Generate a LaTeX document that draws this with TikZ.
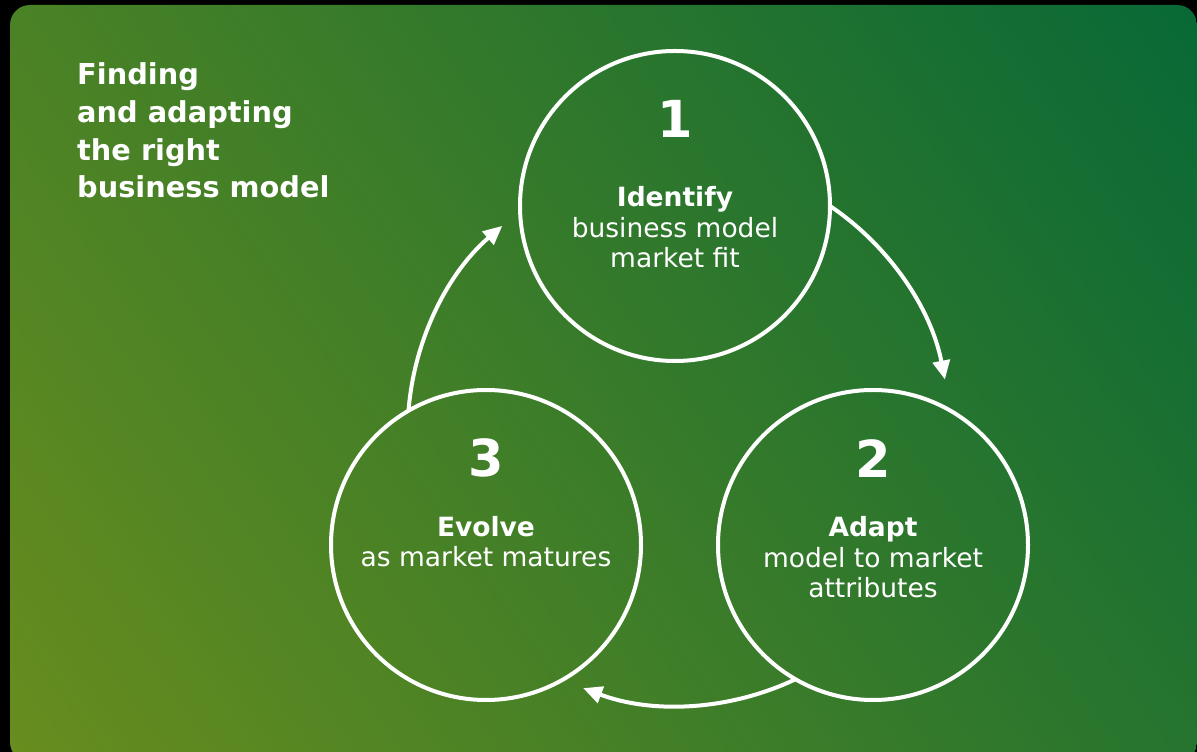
\documentclass[tikz,border=0pt]{standalone}
\usepackage{fontspec}
\setmainfont{DejaVu Sans}
\usetikzlibrary{arrows.meta}

\definecolor{bgA}{RGB}{104,141,30}
\definecolor{bgB}{RGB}{8,105,54}
\pgfdeclarehorizontalshading{bgshade}{100bp}{color(0bp)=(bgA); color(25bp)=(bgA); color(75bp)=(bgB); color(100bp)=(bgB)}

\tikzset{
  ring/.style={circle, draw=white, line width=4pt, minimum size=310pt, inner sep=0pt, outer sep=0pt},
  flow/.style={draw=white, line width=4pt, -{Triangle[length=19pt,width=17pt]}},
  numtext/.style={text=white, anchor=base, inner sep=0pt, font=\fontsize{51pt}{51pt}\selectfont\bfseries},
  bodytext/.style={text=white, anchor=base, inner sep=0pt, align=center, font=\fontsize{26.5pt}{30.8pt}\selectfont},
  titletext/.style={text=white, anchor=base west, inner sep=0pt, align=left, font=\fontsize{28.8pt}{37.7pt}\selectfont\bfseries}
}

\begin{document}
\begin{tikzpicture}[x=1pt, y=1pt]
  \useasboundingbox (0,0) rectangle (1197,752);
  \fill[black] (0,0) rectangle (1197,752);

  % green panel with diagonal gradient
  \begin{scope}
    \clip[rounded corners=20pt] (10,-10) rectangle (1197,747);
    \shade[shading=bgshade, shading angle=35] (-108,-330) rectangle (1304,1082);
  \end{scope}

  % heading (placed by the baseline of its last line)
  \node[titletext] (title) at (77,554) {Finding\\and adapting\\the right\\business model};

  % the three stages
  \node[ring] (c1) at (675,546) {};
  \node[ring] (c2) at (873,207) {};
  \node[ring] (c3) at (486,207) {};

  \node[numtext] (n1) at (675,614) {1};
  \node[bodytext] (t1) at (675,484) {\textbf{Identify}\\business model\\market fit};

  \node[numtext] (n2) at (873,274) {2};
  \node[bodytext] (t2) at (873,154) {\textbf{Adapt}\\model to market\\attributes};

  \node[numtext] (n3) at (486,275) {3};
  \node[bodytext] (t3) at (486,185) {\textbf{Evolve}\\as market matures};

  % cycle arrows around the common centre
  \draw[flow] (c1.0) arc[start angle=56, end angle=11, radius=272pt];
  \draw[flow] (c2.-120) arc[start angle=-64.6, end angle=-110.6, radius=272pt];
  \draw[flow] (c3.120) arc[start angle=175.5, end angle=130.7, radius=272pt];
\end{tikzpicture}
\end{document}
